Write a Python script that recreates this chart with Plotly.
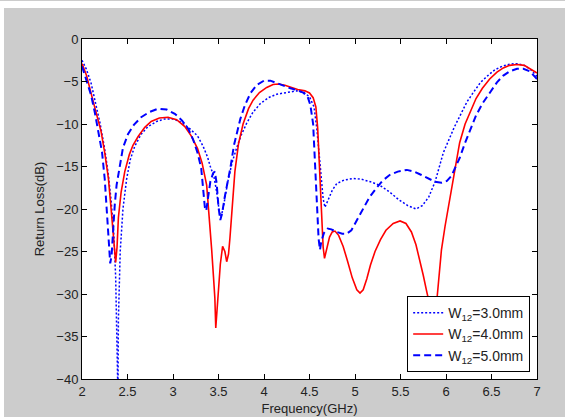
import plotly.graph_objects as go

# ---- data (frequency in GHz, return loss in dB) ----
f_w3 = [2.00, 2.05, 2.10, 2.15, 2.20, 2.25, 2.29, 2.32, 2.35, 2.37, 2.38, 2.385, 2.395, 2.40, 2.42, 2.45,
        2.49, 2.53, 2.58, 2.65, 2.725, 2.82, 2.91, 3.00, 3.09, 3.18, 3.27, 3.33, 3.38, 3.41, 3.43, 3.45,
        3.48, 3.51, 3.53, 3.56, 3.60, 3.65, 3.70, 3.75, 3.81, 3.88, 3.96, 4.05, 4.14, 4.25, 4.36, 4.44,
        4.50, 4.55, 4.58, 4.61, 4.63, 4.65, 4.67, 4.70, 4.75, 4.80, 4.88, 4.98, 5.07, 5.17, 5.27, 5.38,
        5.48, 5.58, 5.67, 5.74, 5.81, 5.88, 5.93, 5.97, 6.03, 6.09, 6.16, 6.23, 6.30, 6.38, 6.46, 6.54,
        6.62, 6.70, 6.78, 6.86, 6.93, 7.00]
rl_w3 = [-2.5, -3.6, -5.2, -7.5, -10.0, -13.0, -16.0, -19.0, -23.0, -28.0, -34.0, -42.0, -42.0, -33.0, -25.0, -20.0,
         -16.5, -14.2, -12.6, -11.2, -10.3, -9.7, -9.4, -9.4, -9.8, -10.5, -11.4, -12.6, -13.9, -15.0, -15.5, -16.2,
         -18.0, -20.4, -20.9, -19.4, -16.9, -14.5, -12.8, -11.3, -9.9, -8.6, -7.6, -6.9, -6.5, -6.3, -6.1, -6.3,
         -6.8, -8.0, -10.5, -14.0, -16.8, -18.8, -19.8, -19.0, -17.8, -17.0, -16.6, -16.4, -16.5, -16.8, -17.2, -18.0,
         -18.9, -19.6, -20.0, -19.6, -18.6, -16.8, -14.8, -13.4, -11.9, -10.4, -8.9, -7.4, -6.3, -5.1, -4.3, -3.6,
         -3.2, -2.95, -2.9, -3.1, -3.6, -4.4]

f_w4 = [2.00, 2.05, 2.10, 2.15, 2.21, 2.25, 2.29, 2.32, 2.345, 2.37, 2.385, 2.40, 2.43, 2.47, 2.52, 2.56,
        2.615, 2.69, 2.76, 2.85, 2.945, 3.04, 3.13, 3.20, 3.27, 3.32, 3.37, 3.40, 3.425, 3.445, 3.46, 3.47,
        3.485, 3.50, 3.52, 3.545, 3.57, 3.59, 3.61, 3.625, 3.645, 3.665, 3.68, 3.72, 3.77, 3.83, 3.88, 3.95,
        4.03, 4.10, 4.16, 4.23, 4.29, 4.37, 4.45, 4.50, 4.54, 4.57, 4.59, 4.60, 4.615, 4.63, 4.65, 4.665,
        4.69, 4.72, 4.75, 4.78, 4.82, 4.87, 4.92, 4.97, 5.02, 5.055, 5.09, 5.13, 5.17, 5.22, 5.28, 5.34,
        5.42, 5.495, 5.56, 5.62, 5.67, 5.71, 5.75, 5.79, 5.82, 5.85, 5.87, 5.89, 5.91, 5.93, 5.95, 5.99,
        6.03, 6.06, 6.10, 6.15, 6.21, 6.27, 6.33, 6.40, 6.48, 6.56, 6.63, 6.70, 6.78, 6.86, 6.93, 7.00]
rl_w4 = [-2.9, -4.3, -6.4, -8.5, -10.9, -13.4, -16.4, -20.0, -23.5, -26.3, -24.5, -21.0, -18.0, -15.6, -13.6, -12.5,
         -11.5, -10.4, -9.7, -9.3, -9.2, -9.5, -10.3, -11.4, -12.9, -14.6, -17.2, -21.0, -24.8, -28.0, -30.5, -34.0,
         -31.5, -29.0, -26.5, -24.4, -25.0, -26.2, -25.3, -23.5, -20.3, -17.2, -15.6, -12.3, -10.0, -8.2, -7.2, -6.3,
         -5.7, -5.35, -5.3, -5.45, -5.7, -5.95, -6.1, -6.35, -6.9, -8.0, -10.5, -12.8, -18.0, -21.5, -24.5, -25.8,
         -24.6, -23.3, -22.7, -22.6, -23.1, -24.4, -26.2, -28.1, -29.5, -29.9, -29.5, -28.2, -26.6, -25.0, -23.6, -22.5,
         -21.7, -21.4, -21.7, -22.7, -24.2, -25.9, -27.8, -29.8, -31.1, -32.6, -33.0, -31.8, -29.5, -27.0, -24.8, -22.0,
         -19.6, -17.5, -15.0, -12.2, -10.0, -8.4, -7.0, -5.8, -4.7, -3.9, -3.4, -3.1, -3.0, -3.1, -3.5, -4.0]

f_w5 = [2.00, 2.05, 2.10, 2.14, 2.18, 2.22, 2.25, 2.27, 2.29, 2.31, 2.325, 2.34, 2.36, 2.38, 2.40, 2.45,
        2.505, 2.57, 2.65, 2.74, 2.835, 2.93, 3.02, 3.10, 3.17, 3.22, 3.27, 3.31, 3.33, 3.35, 3.365, 3.38,
        3.41, 3.44, 3.46, 3.48, 3.50, 3.52, 3.54, 3.57, 3.60, 3.63, 3.67, 3.71, 3.74, 3.79, 3.85, 3.92,
        4.00, 4.07, 4.14, 4.22, 4.29, 4.36, 4.43, 4.48, 4.51, 4.54, 4.56, 4.58, 4.60, 4.615, 4.63, 4.66,
        4.70, 4.74, 4.80, 4.86, 4.91, 4.96, 5.02, 5.09, 5.16, 5.23, 5.30, 5.38, 5.47, 5.57, 5.65, 5.73,
        5.80, 5.88, 5.95, 6.01, 6.06, 6.10, 6.15, 6.21, 6.27, 6.33, 6.40, 6.48, 6.56, 6.63, 6.70, 6.78,
        6.85, 6.92, 7.00]
rl_w5 = [-3.2, -4.8, -6.6, -8.6, -10.8, -13.3, -16.5, -19.5, -23.0, -26.4, -25.5, -22.8, -19.5, -17.2, -15.8, -12.8,
         -11.2, -10.1, -9.2, -8.6, -8.2, -8.3, -8.8, -9.6, -10.6, -11.8, -13.4, -15.2, -17.5, -19.8, -20.2, -19.2,
         -16.8, -15.8, -15.6, -17.0, -19.8, -21.3, -20.5, -18.5, -17.0, -15.2, -12.5, -10.6, -9.4, -7.8, -6.4, -5.4,
         -4.9, -4.9, -5.2, -5.5, -5.8, -6.0, -6.3, -6.8, -7.8, -10.0, -14.0, -19.5, -23.5, -24.8, -23.8, -22.8,
         -22.3, -22.4, -22.7, -22.9, -22.9, -22.5, -21.3, -19.9, -18.6, -17.6, -16.7, -16.0, -15.6, -15.4, -15.6, -16.0,
         -16.4, -16.8, -16.9, -16.7, -16.1, -15.2, -14.0, -12.2, -10.6, -9.0, -7.6, -6.3, -5.1, -4.3, -3.8, -3.5,
         -3.5, -3.8, -4.7]

names = ["W<sub>12</sub>=3.0mm", "W<sub>12</sub>=4.0mm", "W<sub>12</sub>=5.0mm"]
x_ticks = [2, 2.5, 3, 3.5, 4, 4.5, 5, 5.5, 6, 6.5, 7]
x_tick_labels = ["2", "2.5", "3", "3.5", "4", "4.5", "5", "5.5", "6", "6.5", "7"]
y_ticks = [-40, -35, -30, -25, -20, -15, -10, -5, 0]

FONT = "Liberation Sans, Arial, sans-serif"

fig = go.Figure()
fig.add_trace(go.Scatter(x=f_w3, y=rl_w3, mode="lines", name=names[0],
                         line=dict(color="#0000ff", width=1.5, dash="2px,2px")))
fig.add_trace(go.Scatter(x=f_w4, y=rl_w4, mode="lines", name=names[1],
                         line=dict(color="#ff0000", width=1.6)))
fig.add_trace(go.Scatter(x=f_w5, y=rl_w5, mode="lines", name=names[2],
                         line=dict(color="#0000ff", width=2, dash="7px,4px")))

axis_common = dict(showgrid=False, zeroline=False, showline=True, linecolor="black", linewidth=1,
                   mirror="ticks", ticks="inside", ticklen=5, tickcolor="black",
                   tickfont=dict(family=FONT, size=13, color="#222222"))

fig.update_xaxes(range=[2, 7], tickvals=x_ticks, ticktext=x_tick_labels,
                 title=dict(text="Frequency(GHz)", font=dict(family=FONT, size=13, color="#222222"), standoff=6),
                 **axis_common)
fig.update_yaxes(range=[-40, 0], tickvals=y_ticks,
                 title=dict(text="Return Loss(dB)", font=dict(family=FONT, size=13, color="#222222"), standoff=8),
                 **axis_common)

fig.update_layout(
    width=565, height=417,
    margin=dict(l=82, r=28, t=39, b=38, autoexpand=False),
    paper_bgcolor="#cccccc", plot_bgcolor="white",
    font=dict(family=FONT, size=13, color="#222222"),
    legend=dict(x=0.985, y=0.02, xanchor="right", yanchor="bottom",
                bgcolor="white", bordercolor="black", borderwidth=1,
                font=dict(family=FONT, size=14, color="#222222"),
                tracegroupgap=0, itemwidth=30),
    shapes=[
        dict(type="rect", xref="paper", yref="paper", x0=-82/455, x1=-78/455, y0=-38/340, y1=378/340,
             fillcolor="white", line=dict(width=0), layer="below"),
        dict(type="rect", xref="paper", yref="paper", x0=-82/455, x1=483/455, y0=371/340, y1=378/340,
             fillcolor="white", line=dict(width=0), layer="below"),
    ],
)

fig.write_html("out.html")
